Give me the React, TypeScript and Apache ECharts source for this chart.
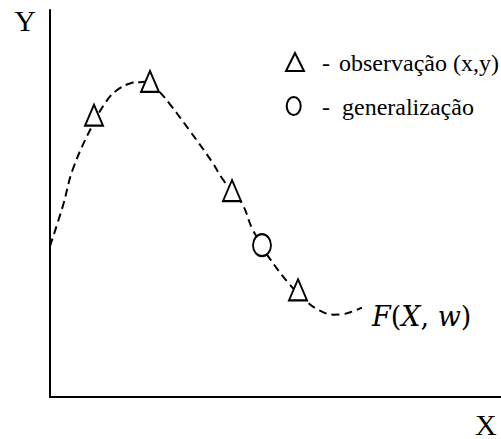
import { useEffect, useRef } from 'react';
import * as echarts from 'echarts';

// Hand-traced function curve F(X, w): x to the right, y upwards (axis units)
const curveX = [0, 13, 23, 42, 57, 68, 80, 92, 99, 110, 120, 140, 162, 173, 192, 202, 212, 218, 240, 258, 270, 283, 293, 302, 312];
const curveY = [152, 193, 230, 273, 299, 310, 316, 317.5, 318, 307, 295, 268, 237, 219, 195, 170, 153, 142, 113, 95, 87, 83, 83.5, 86, 90];

// Observed samples (x, y)
const obsX = [44, 100, 182, 248];
const obsY = [284, 318, 208, 108];

// Generalisation point
const genX = [212];
const genY = [153];

const OBS_NAME = 'observação (x,y)';
const GEN_NAME = 'generalização';
const CURVE_NAME = 'F(X, w)';

const ELLIPSE =
  'path://M1,0C1,0.552,0.552,1,0,1C-0.552,1,-1,0.552,-1,0C-1,-0.552,-0.552,-1,0,-1C0.552,-1,1,-0.552,1,0Z';

const SERIF = 'Liberation Serif';

export default function App() {
  const ref = useRef<HTMLDivElement>(null);

  useEffect(() => {
    if (!ref.current) return;
    const chart = echarts.init(ref.current, undefined, { renderer: 'svg' });

    const curve = curveX.map((x, i) => [x, curveY[i]]);
    const obs = obsX.map((x, i) => [x, obsY[i]]);
    const gen = genX.map((x, i) => [x, genY[i]]);

    const markerStyle = { color: '#fff', borderColor: '#000', borderWidth: 2, opacity: 1 };
    const keyStroke = { fill: '#fff', stroke: '#000', lineWidth: 2 };
    const keyText = {
      fill: '#000',
      fontFamily: SERIF,
      fontSize: 24,
      verticalAlign: 'middle',
      align: 'left',
    };

    chart.setOption({
      animation: false,
      backgroundColor: '#fff',
      textStyle: { fontFamily: SERIF },
      grid: { left: 50, right: 0, top: 10, bottom: 39 },
      xAxis: {
        type: 'value',
        min: 0,
        max: 451,
        name: 'X',
        nameLocation: 'end',
        nameGap: -26,
        nameTextStyle: {
          fontFamily: SERIF,
          fontSize: 30,
          color: '#000',
          align: 'left',
          verticalAlign: 'top',
          padding: [12, 0, 0, 0],
        },
        axisLine: { show: true, lineStyle: { color: '#000', width: 2 } },
        axisTick: { show: false },
        axisLabel: { show: false },
        splitLine: { show: false },
      },
      yAxis: {
        type: 'value',
        min: 0,
        max: 390,
        name: 'Y',
        nameLocation: 'end',
        nameGap: 5,
        nameTextStyle: {
          fontFamily: SERIF,
          fontSize: 30,
          color: '#000',
          align: 'right',
          verticalAlign: 'top',
          padding: [0, 14, 0, 0],
        },
        axisLine: { show: true, lineStyle: { color: '#000', width: 2 } },
        axisTick: { show: false },
        axisLabel: { show: false },
        splitLine: { show: false },
      },
      // Key for the two marker types
      graphic: [
        {
          type: 'polygon',
          shape: { points: [[295, 53], [286, 71], [304, 71]] },
          style: keyStroke,
        },
        { type: 'text', x: 322, y: 63, style: { ...keyText, text: '-' } },
        { type: 'text', x: 339, y: 63, style: { ...keyText, text: OBS_NAME } },
        {
          type: 'ellipse',
          shape: { cx: 293.7, cy: 106, rx: 7, ry: 9 },
          style: keyStroke,
        },
        { type: 'text', x: 322, y: 107, style: { ...keyText, text: '-' } },
        { type: 'text', x: 342, y: 107, style: { ...keyText, text: GEN_NAME } },
      ],
      series: [
        {
          name: CURVE_NAME,
          type: 'line',
          data: curve,
          smooth: 0.4,
          showSymbol: false,
          silent: true,
          z: 1,
          lineStyle: { color: '#000', width: 2, type: [8, 5] },
          endLabel: {
            show: true,
            distance: 10,
            offset: [0, 9],
            formatter: '{i|F}{n|(}{i|X}{n|, }{i|w}{n|)}',
            rich: {
              i: { fontFamily: 'DejaVu Serif', fontStyle: 'italic', fontSize: 27, color: '#000' },
              n: { fontFamily: 'DejaVu Serif', fontSize: 27, color: '#000' },
            },
          },
        },
        {
          name: OBS_NAME,
          type: 'scatter',
          data: obs,
          symbol: 'triangle',
          symbolSize: [18, 21],
          itemStyle: markerStyle,
          z: 3,
        },
        {
          name: GEN_NAME,
          type: 'scatter',
          data: gen,
          symbol: ELLIPSE,
          symbolSize: [18, 22],
          itemStyle: markerStyle,
          z: 3,
        },
      ],
    });

    return () => chart.dispose();
  }, []);

  return (
    <div
      ref={ref}
      style={{ position: 'fixed', left: 0, top: 0, width: 501, height: 439, background: '#fff' }}
    />
  );
}
